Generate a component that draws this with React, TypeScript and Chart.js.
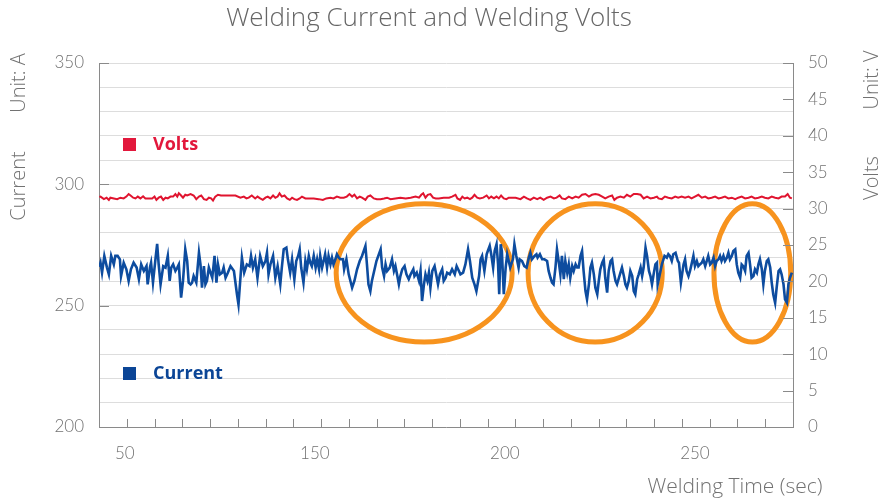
import React, { useEffect, useRef } from "react";
import { Chart, registerables } from "chart.js";

Chart.register(...registerables);

const chartTitle = "Welding Current and Welding Volts";
const xAxisTitle = "Welding Time (sec)";
const leftUnit = "Unit: A";
const leftTitle = "Current";
const rightUnit = "Unit: V";
const rightTitle = "Volts";
const legendVolts = "Volts";
const legendCurrent = "Current";

const timeMin = 93.2;
const timeMax = 275.8;
const xTickValues = [100, 150, 200, 250];
const xTickLabels = ["50", "150", "200", "250"];
const currentMin = 200;
const currentMax = 350;
const currentLabelTicks = [200, 250, 300, 350];
const voltMin = 0;
const voltMax = 50;

// [time (s), current (A)]
const currentSamples: [number, number][] = [
  [93.3, 266], [93.6, 267.7], [94.0, 263.6], [94.6, 270.5], [95.3, 265.7], [95.8, 262.9], [96.4, 270.5], [97.1, 267.0],
  [97.5, 270.5], [98.1, 270.5], [98.7, 269.1], [99.0, 262.2], [99.7, 267.7], [100.4, 265.0], [101.0, 260.2], [101.6, 265.0],
  [102.3, 267.7], [103.1, 265.7], [103.7, 260.9], [104.3, 267.0], [105.0, 264.3], [105.7, 266.3], [106.0, 258.8], [106.6, 265.7],
  [106.9, 267.7], [107.4, 259.5], [108.1, 269.8], [108.5, 275.5], [108.9, 267.0], [109.4, 258.8], [110.1, 266.3], [110.7, 265.7],
  [111.3, 270.5], [111.8, 260.2], [112.2, 265.7], [112.7, 267.0], [113.3, 264.3], [113.8, 265.7], [114.2, 267.0], [114.8, 253.3],
  [115.3, 260.2], [115.9, 273.2], [116.4, 268.4], [116.8, 259.5], [117.3, 258.8], [117.7, 259.5], [118.1, 262.2], [118.8, 259.5],
  [119.5, 271.8], [119.9, 267.0], [120.3, 257.4], [120.8, 266.3], [121.2, 258.8], [121.6, 260.2], [122.1, 265.7], [123.0, 261.5],
  [123.6, 270.5], [124.1, 259.5], [124.5, 267.0], [125.0, 262.9], [125.6, 263.6], [126.0, 265.7], [126.5, 261.5], [127.1, 263.6],
  [127.8, 266.3], [128.7, 264.3], [129.5, 254.7], [129.9, 250.5],
  [130.8, 269.8], [131.4, 263.6], [132.1, 267.0], [132.8, 266.3], [133.2, 270.5], [133.7, 265.7], [134.3, 269.1], [134.9, 261.5],
  [135.6, 270.5], [136.3, 266.3], [137.0, 268.4], [137.4, 271.8], [137.8, 262.9], [138.3, 267.0], [139.0, 270.5], [139.6, 261.5],
  [140.2, 266.3], [140.9, 258.8], [141.3, 265.7], [141.8, 273.2], [142.5, 273.9], [142.9, 269.1], [143.5, 263.6], [144.0, 269.1],
  [144.6, 260.9], [145.1, 268.4], [145.6, 270.5], [146.0, 273.2], [146.4, 265.7], [147.0, 259.5], [147.5, 268.4], [147.9, 265.0],
  [148.4, 270.5], [148.8, 267.7], [149.2, 266.3], [149.7, 270.5], [150.2, 265.7], [150.6, 269.1], [151.1, 265.0], [151.4, 270.5],
  [151.9, 265.7], [152.3, 268.4], [152.7, 271.2], [153.2, 265.7], [153.6, 270.5], [154.1, 267.0], [154.5, 269.8], [154.9, 267.0],
  [155.4, 269.1], [155.8, 271.2], [156.3, 269.8], [156.7, 269.1], [157.4, 269.1], [157.7, 265.0], [158.3, 269.1], [158.9, 262.9],
  [159.8, 257.4], [160.4, 260.2], [161.1, 265.0], [161.8, 268.4], [162.4, 270.5], [163.3, 274.6], [163.7, 267.0], [164.1, 258.8],
  [164.6, 256.0], [165.0, 260.2], [165.6, 264.3], [166.2, 268.4],
  [167.3, 273.2], [167.7, 265.7], [168.2, 262.2], [168.6, 267.0], [169.0, 264.3], [169.7, 265.7], [170.3, 269.1], [170.8, 264.3],
  [171.2, 266.3], [171.7, 262.2], [172.1, 258.8], [172.5, 262.2], [173.0, 265.0], [173.6, 266.3], [174.1, 262.9], [174.7, 260.9],
  [175.2, 262.9], [175.9, 265.0], [176.2, 262.2], [176.8, 263.6], [177.4, 260.2], [177.8, 264.3], [178.2, 251.9], [178.7, 258.8],
  [179.1, 262.9], [179.6, 260.2], [180.0, 263.6], [180.4, 257.4], [180.9, 264.3], [181.5, 266.3], [182.0, 262.2], [182.4, 258.8],
  [182.9, 262.9], [183.5, 265.0], [183.9, 260.2], [184.4, 261.5], [184.8, 263.6], [185.5, 262.9], [186.1, 265.0], [186.8, 262.9],
  [187.3, 266.3], [187.9, 264.3], [188.3, 262.9], [189.0, 263.6], [189.6, 267.0], [190.3, 273.2], [190.8, 268.4], [191.4, 261.5],
  [192.0, 258.8], [192.5, 256.0], [193.2, 262.2], [193.6, 269.1], [194.0, 270.5], [194.6, 264.3], [195.2, 271.2], [195.5, 272.5],
  [196.0, 274.6], [196.4, 271.2], [196.9, 265.7], [197.3, 272.5], [197.8, 275.3], [198.2, 267.0], [198.5, 254.7], [198.9, 275.3],
  [199.2, 272.5], [199.7, 254.7], [200.2, 265.7], [200.6, 271.2], [201.0, 268.4], [201.4, 265.7], [202.1, 269.1], [202.5, 275.3],
  [203.0, 270.5], [203.6, 265.7],
  [203.9, 269.1], [204.5, 268.4], [205.1, 266.3], [205.7, 265.7], [206.3, 269.8], [206.7, 271.8], [207.1, 269.1], [207.8, 270.5],
  [208.3, 271.2], [208.6, 269.8], [209.2, 271.2], [209.8, 269.1], [210.4, 269.1], [211.1, 268.4], [211.5, 264.3], [212.0, 261.5],
  [212.4, 259.5], [212.8, 258.8], [213.3, 265.7], [213.7, 273.2], [214.2, 267.7], [214.6, 262.9], [215.0, 270.5], [215.5, 260.9],
  [215.9, 268.4], [216.4, 263.6], [216.8, 267.0], [217.2, 261.5], [217.7, 266.3], [218.1, 264.3], [218.6, 267.0], [219.0, 265.7],
  [219.4, 265.7], [219.9, 270.5], [220.3, 272.5], [220.7, 264.3], [221.2, 256.0], [221.6, 252.6], [222.1, 258.8], [222.5, 265.7],
  [222.9, 267.7], [223.4, 262.9], [223.8, 257.4], [224.3, 254.7], [224.7, 260.2], [225.1, 265.0], [225.6, 267.7], [226.0, 269.1],
  [226.4, 261.5], [226.9, 255.4], [227.3, 264.3], [227.8, 268.4], [228.2, 269.1], [228.6, 264.3], [229.1, 260.2], [229.5, 258.8],
  [229.9, 260.9], [230.4, 263.6], [230.8, 265.7], [231.3, 262.2], [231.7, 258.8], [232.1, 257.4], [232.6, 260.2], [233.0, 264.3],
  [233.5, 262.2], [233.9, 256.0], [234.3, 254.7], [234.8, 260.9], [235.2, 262.9], [235.7, 265.7], [236.1, 262.2], [236.5, 265.7],
  [237.0, 273.9], [237.4, 270.5], [237.9, 264.3], [238.3, 262.2], [238.7, 258.8], [239.2, 263.6], [239.6, 267.0], [240.0, 267.7],
  [240.2, 258.8], [241.3, 267.0], [242.0, 270.5], [242.6, 269.8], [243.0, 271.2], [243.4, 270.5], [243.9, 268.4], [244.3, 271.2],
  [244.9, 271.8], [245.5, 268.4], [245.8, 267.7], [246.3, 259.5], [247.0, 267.0], [247.4, 269.1], [247.8, 264.3], [248.3, 262.2],
  [248.7, 264.3], [249.1, 267.0], [249.6, 270.5], [250.0, 266.3], [250.5, 268.4], [250.9, 266.3], [251.3, 267.0], [251.8, 267.7],
  [252.2, 269.1], [252.7, 266.3], [253.1, 268.4], [253.5, 270.5], [254.0, 267.0], [254.4, 267.7], [254.9, 269.8], [255.3, 266.3],
  [255.7, 268.4], [256.2, 269.1], [256.6, 270.5], [257.0, 268.4], [257.5, 270.5], [257.9, 268.4], [258.4, 269.8], [258.8, 271.8],
  [259.2, 269.1], [259.7, 270.5], [260.1, 272.5], [260.6, 273.2], [261.0, 267.0], [261.4, 263.6], [261.9, 261.5], [262.3, 267.0],
  [262.7, 266.3], [263.2, 264.3], [263.6, 270.5], [264.1, 271.8], [264.5, 267.0], [264.9, 261.5], [265.4, 262.2], [265.8, 265.0],
  [266.3, 263.6], [266.7, 267.0], [267.1, 269.1], [267.6, 265.0], [268.0, 258.8], [268.4, 264.3], [268.9, 268.4], [269.3, 269.1],
  [269.8, 265.7], [270.2, 259.5], [270.6, 254.7], [271.1, 251.2], [271.5, 257.4], [272.0, 264.3], [272.4, 265.0], [272.8, 262.9],
  [273.3, 258.8], [273.7, 252.6], [274.2, 251.2], [274.6, 258.8], [275.0, 261.5], [275.5, 263.6],
];

// [time (s), volts (V)]
const voltSamples: [number, number][] = [
  [93.3, 31.6], [93.6, 31.65], [94.5, 31.3], [95.2, 31.5], [95.8, 31.2], [96.2, 31.5], [97.1, 31.4], [98.0, 31.3],
  [98.8, 31.5], [99.7, 31.4], [100.4, 31.65], [101.0, 32.0], [101.5, 31.8], [102.2, 31.5], [102.8, 31.4], [103.4, 31.65],
  [104.1, 31.4], [104.8, 31.7], [105.4, 31.4], [106.3, 31.4], [107.2, 31.4], [107.8, 31.65], [108.3, 31.2], [108.9, 31.5],
  [109.5, 31.65], [110.1, 31.2], [110.7, 31.5], [111.3, 31.4], [112.0, 31.65], [112.7, 31.65], [113.3, 32.0], [113.8, 31.65],
  [114.2, 32.1], [114.8, 31.8], [115.3, 31.5], [115.9, 31.9], [116.4, 31.8], [117.3, 32.0], [118.1, 31.8], [118.8, 31.3],
  [119.5, 31.65], [120.1, 31.8], [120.8, 31.3], [121.5, 31.2], [122.1, 31.5], [122.7, 31.4], [123.2, 31.1], [123.8, 31.65],
  [124.5, 31.9], [125.3, 31.8], [126.5, 31.8], [127.8, 31.8], [129.1, 31.8],
  [130.4, 31.5], [131.3, 31.65], [132.0, 31.4], [132.6, 31.5], [133.4, 31.8], [134.3, 31.4], [134.9, 31.65], [135.6, 31.4],
  [136.3, 31.2], [137.0, 31.5], [137.6, 31.65], [138.3, 31.4], [139.0, 31.8], [139.6, 31.5], [140.2, 31.65], [140.7, 32.1],
  [141.3, 31.65], [142.0, 31.8], [142.7, 31.4], [143.4, 31.2], [144.0, 31.5], [144.6, 31.3], [145.3, 31.2], [146.0, 31.4],
  [146.6, 31.65], [147.5, 31.4], [148.4, 31.4], [149.7, 31.4], [151.0, 31.3], [152.1, 31.2], [153.0, 31.4], [154.1, 31.5],
  [154.9, 31.4], [155.8, 31.65], [156.7, 31.5], [157.6, 31.5], [158.4, 31.65], [159.1, 32.0], [159.8, 31.65], [160.4, 31.9],
  [161.1, 31.4], [161.8, 31.65], [162.4, 31.5], [163.3, 31.2], [163.9, 31.65], [164.6, 31.8], [165.5, 31.4], [166.3, 31.3],
  [167.3, 31.3], [168.2, 31.4], [169.0, 31.5], [169.9, 31.3], [171.2, 31.4], [172.5, 31.5], [173.9, 31.4], [175.2, 31.5],
  [176.5, 31.65], [177.4, 31.5], [178.0, 31.9], [178.5, 32.1], [179.1, 31.5], [179.7, 31.9], [180.4, 32.0], [181.1, 31.5],
  [181.8, 31.4], [182.6, 31.4], [183.9, 31.5], [185.3, 31.5], [186.1, 31.65], [187.0, 31.9], [187.5, 31.4], [188.2, 31.2],
  [188.8, 31.65], [189.4, 31.4], [190.1, 31.5], [190.8, 31.3], [191.4, 31.5], [192.0, 31.9], [192.7, 31.5], [193.4, 31.4],
  [194.3, 31.5], [195.2, 31.8], [195.8, 31.4], [196.4, 31.65], [197.1, 31.4], [197.8, 31.65], [198.4, 31.4], [199.0, 31.8],
  [199.7, 31.4], [200.4, 31.3], [201.0, 31.5], [201.9, 31.5], [202.8, 31.5],
  [204.1, 31.3], [205.0, 31.65], [205.8, 31.4], [206.7, 31.2], [207.6, 31.5], [208.5, 31.3], [209.3, 31.5], [210.2, 31.2],
  [211.1, 31.5], [212.0, 31.65], [212.9, 31.4], [213.6, 31.5], [214.4, 31.8], [215.0, 31.4], [215.9, 31.3], [216.8, 31.65],
  [217.7, 31.4], [218.6, 31.65], [219.4, 31.5], [220.3, 31.9], [221.2, 32.0], [222.1, 31.65], [222.9, 31.9], [223.8, 32.0],
  [224.7, 31.9], [225.6, 31.65], [226.4, 31.4], [227.3, 31.65], [228.2, 31.8], [228.8, 31.2], [229.5, 31.5], [230.4, 31.65],
  [231.3, 31.5], [232.1, 31.9], [233.0, 31.65], [233.9, 32.0], [234.8, 32.0], [235.7, 31.9], [236.5, 31.4], [237.4, 31.65],
  [238.3, 31.4], [239.2, 31.5], [240.0, 31.65],
  [240.4, 31.4], [241.3, 31.3], [242.1, 31.65], [243.0, 31.5], [243.9, 31.4], [244.8, 31.65], [245.6, 31.5], [246.5, 31.65],
  [247.4, 31.5], [248.3, 31.65], [249.1, 31.4], [250.0, 31.65], [250.9, 31.9], [251.8, 31.5], [252.7, 31.65], [253.5, 31.4],
  [254.4, 31.5], [255.3, 31.65], [256.2, 31.4], [257.0, 31.5], [257.9, 31.65], [258.8, 31.4], [259.7, 31.5], [260.6, 31.3],
  [261.4, 31.5], [262.3, 31.65], [263.2, 31.4], [264.1, 31.5], [264.9, 31.65], [265.8, 31.4], [266.7, 31.5], [267.6, 31.65],
  [268.4, 31.5], [269.3, 31.4], [270.2, 31.65], [271.1, 31.5], [272.0, 31.4], [272.8, 31.65], [273.7, 31.65], [274.4, 32.0],
  [275.0, 31.5], [275.5, 31.4],
];

// highlighted windows (time from/to, current low/high)
const highlightFrom = [155.6, 206.1, 255.0];
const highlightTo = [201.9, 241.4, 275.2];
const highlightLow = [235.0, 235.0, 235.0];
const highlightHigh = [292.0, 292.0, 292.0];

const FONT = "Lato, 'Open Sans', sans-serif";
const WIDE = "'Open Sans', Lato, sans-serif";
const TEXT = "#727272";

const decorPlugin = {
  id: "decor",
  beforeDatasetsDraw(chart: any) {
    const { ctx, scales } = chart;
    const x = scales.x;
    const y = scales.y;
    ctx.save();
    ctx.strokeStyle = "#f7931e";
    ctx.lineWidth = 5;
    for (let i = 0; i < highlightFrom.length; i++) {
      const x0 = x.getPixelForValue(highlightFrom[i]);
      const x1 = x.getPixelForValue(highlightTo[i]);
      const y0 = y.getPixelForValue(highlightHigh[i]);
      const y1 = y.getPixelForValue(highlightLow[i]);
      ctx.beginPath();
      ctx.ellipse((x0 + x1) / 2, (y0 + y1) / 2, (x1 - x0) / 2, (y1 - y0) / 2, 0, 0, Math.PI * 2);
      ctx.stroke();
    }
    ctx.restore();
  },
  afterDraw(chart: any) {
    const { ctx, chartArea, scales } = chart;
    const { left, right, top, bottom } = chartArea;
    ctx.save();
    // inward ticks
    ctx.strokeStyle = "#8a8a8a";
    ctx.lineWidth = 1;
    const n = 25;
    for (let k = 1; k < n; k++) {
      const t = timeMin + (k * (timeMax - timeMin)) / n;
      const px = Math.round(scales.x.getPixelForValue(t)) + 0.5;
      ctx.beginPath();
      ctx.moveTo(px, bottom);
      ctx.lineTo(px, bottom - 8);
      ctx.stroke();
    }
    for (const v of scales.y1.ticks) {
      const py = Math.round(scales.y1.getPixelForValue(v.value)) + 0.5;
      ctx.beginPath();
      ctx.moveTo(right - 10, py);
      ctx.lineTo(right, py);
      ctx.stroke();
    }
    for (const v of currentLabelTicks) {
      const py = Math.round(scales.y.getPixelForValue(v)) + 0.5;
      ctx.beginPath();
      ctx.moveTo(left, py);
      ctx.lineTo(left + 10, py);
      ctx.stroke();
    }

    // title
    ctx.fillStyle = "#666666";
    ctx.font = `300 26px ${WIDE}`;
    ctx.textAlign = "center";
    ctx.textBaseline = "middle";
    ctx.fillText(chartTitle, 429, 19);

    // x axis title
    ctx.fillStyle = TEXT;
    ctx.font = `300 21px ${WIDE}`;
    ctx.fillText(xAxisTitle, 735, 487);

    // rotated axis titles
    const rot = (text: string, cx: number, cy: number) => {
      ctx.save();
      ctx.translate(cx, cy);
      ctx.rotate(-Math.PI / 2);
      ctx.fillText(text, 0, 0);
      ctx.restore();
    };
    ctx.font = `300 20px ${WIDE}`;
    rot(leftUnit, 19, 83);
    rot(leftTitle, 19, 186);
    rot(rightUnit, 872, 80);
    rot(rightTitle, 872, 178);

    // legend
    ctx.textAlign = "left";
    ctx.fillStyle = "#e2183c";
    ctx.fillRect(left + 24, top + 75, 13, 13);
    ctx.font = `bold 18px ${WIDE}`;
    ctx.fillText(legendVolts, left + 54, top + 82);
    ctx.fillStyle = "#0b4596";
    ctx.fillRect(left + 24, top + 304, 13, 13);
    ctx.fillText(legendCurrent, left + 54, top + 311);
    ctx.restore();
  },
};

export default function App() {
  const ref = useRef<HTMLCanvasElement>(null);
  useEffect(() => {
    const canvas = ref.current;
    if (!canvas) return;
    const tickFont = { family: FONT, size: 17, weight: "300" as any };
    const chart = new Chart(canvas, {
      type: "line",
      data: {
        datasets: [
          {
            label: legendVolts,
            data: voltSamples.map(([x, y]) => ({ x, y })),
            yAxisID: "y1",
            borderColor: "#e0142f",
            borderWidth: 2,
            pointRadius: 0,
            tension: 0,
          },
          {
            label: legendCurrent,
            data: currentSamples.map(([x, y]) => ({ x, y })),
            yAxisID: "y",
            borderColor: "#0d4c9f",
            borderWidth: 2.6,
            pointRadius: 0,
            tension: 0,
          },
        ],
      },
      options: {
        responsive: false,
        animation: false,
        events: [],
        layout: { padding: { top: 63, left: 0, right: 0, bottom: 0 } },
        plugins: { legend: { display: false }, tooltip: { enabled: false }, title: { display: false } },
        scales: {
          x: {
            type: "linear",
            min: timeMin,
            max: timeMax,
            afterBuildTicks: (s: any) => {
              s.ticks = xTickValues.map((value) => ({ value }));
            },
            afterFit: (s: any) => {
              s.height = 75;
            },
            grid: { display: false, drawTicks: false },
            border: { display: true, color: "#8a8a8a", width: 1 },
            ticks: {
              autoSkip: false,
              maxRotation: 0,
              padding: 16,
              color: TEXT,
              font: tickFont,
              callback: (_v: any, i: number) => xTickLabels[i],
            },
          },
          y: {
            type: "linear",
            position: "left",
            min: currentMin,
            max: currentMax,
            afterFit: (s: any) => {
              s.width = 99;
            },
            grid: { color: "#dddddd", drawTicks: false },
            border: { display: true, color: "#8a8a8a", width: 1 },
            ticks: {
              stepSize: 10,
              autoSkip: false,
              padding: 15,
              color: TEXT,
              font: tickFont,
              callback: (v: any) => (currentLabelTicks.includes(Number(v)) ? String(v) : ""),
            },
          },
          y1: {
            type: "linear",
            position: "right",
            min: voltMin,
            max: voltMax,
            afterFit: (s: any) => {
              s.width = 98;
            },
            grid: { drawOnChartArea: false, drawTicks: false },
            border: { display: true, color: "#8a8a8a", width: 1 },
            ticks: {
              stepSize: 5,
              autoSkip: false,
              padding: 15,
              color: TEXT,
              font: tickFont,
            },
          },
        },
      } as any,
      plugins: [decorPlugin],
    });
    return () => chart.destroy();
  }, []);
  return (
    <div style={{ position: "fixed", left: 0, top: 0, width: 891, height: 502, background: "#ffffff" }}>
      <canvas ref={ref} width={891} height={502} style={{ display: "block", width: 891, height: 502 }} />
    </div>
  );
}
